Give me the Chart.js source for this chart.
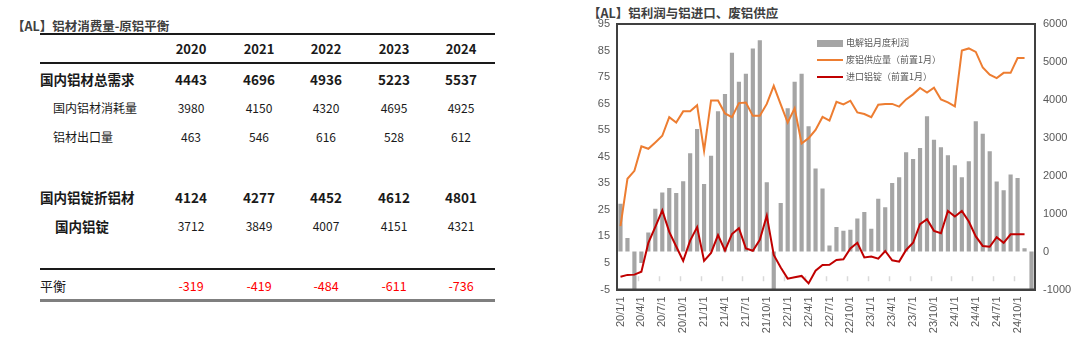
<!DOCTYPE html>
<html>
<head>
<meta charset="utf-8">
<script src="https://cdn.jsdelivr.net/npm/chart.js@4.4.1/dist/chart.umd.min.js"></script>
<style>
  body { margin: 0; width: 1080px; height: 345px; background: #fff; position: relative; overflow: hidden;
         font-family: "Noto Sans CJK SC", "Liberation Sans", sans-serif; color: #1a1a1a; }
  .abs { position: absolute; white-space: nowrap; }
  .title { font-size: 12.5px; font-weight: 700; color: #404040; }
  .cell { width: 64px; text-align: center; }
  .hline { position: absolute; left: 40px; width: 455px; background: #1a1a1a; }
  #chart-wrap { position: absolute; left: 585px; top: 0; width: 495px; height: 345px; }
  .lg { position: absolute; font-size: 9px; color: #595959; line-height: 12px; }
</style>
</head>
<body>

<div class="abs title" style="left:12px; top:16px;">【AL】铝材消费量-原铝平衡</div>
<div id="table"></div>

<div class="abs title" style="left:588px; top:3px;">【AL】铝利润与铝进口、废铝供应</div>
<div id="chart-wrap"><canvas id="chart-al"></canvas></div>

<div style="position:absolute; left:817px; top:40px; width:26px; height:7px; background:#a5a5a5;"></div>
<div class="lg" style="left:846px; top:37px;">电解铝月度利润</div>
<div style="position:absolute; left:817px; top:59px; width:26px; height:2px; background:#ed7d31;"></div>
<div class="lg" style="left:846px; top:54px;">废铝供应量（前置1月）</div>
<div style="position:absolute; left:817px; top:76px; width:26px; height:2px; background:#c00000;"></div>
<div class="lg" style="left:846px; top:71px;">进口铝锭（前置1月）</div>

<script>
// ---- table data (万吨) ----
const years = ['2020', '2021', '2022', '2023', '2024'];
const totalDemand = [4443, 4696, 4936, 5223, 5537];
const domesticUse = [3980, 4150, 4320, 4695, 4925];
const materialExport = [463, 546, 616, 528, 612];
const ingotAsMaterial = [4124, 4277, 4452, 4612, 4801];
const domesticIngot = [3712, 3849, 4007, 4151, 4321];
const balance = [-319, -419, -484, -611, -736];

// ---- chart data ----
const months = [
  '20/1/1','20/2/1','20/3/1','20/4/1','20/5/1','20/6/1','20/7/1','20/8/1','20/9/1','20/10/1','20/11/1','20/12/1',
  '21/1/1','21/2/1','21/3/1','21/4/1','21/5/1','21/6/1','21/7/1','21/8/1','21/9/1','21/10/1','21/11/1','21/12/1',
  '22/1/1','22/2/1','22/3/1','22/4/1','22/5/1','22/6/1','22/7/1','22/8/1','22/9/1','22/10/1','22/11/1','22/12/1',
  '23/1/1','23/2/1','23/3/1','23/4/1','23/5/1','23/6/1','23/7/1','23/8/1','23/9/1','23/10/1','23/11/1','23/12/1',
  '24/1/1','24/2/1','24/3/1','24/4/1','24/5/1','24/6/1','24/7/1','24/8/1','24/9/1','24/10/1','24/11/1','24/12/1'
];
// 电解铝月度利润 (right axis)
const profit = [
  1262, 356, -1150, -300, 505, 1130, 1560, 1675, 1544, 1851, 2590, 3232,
  1781, 2528, 3698, 4156, 5245, 4480, 4688, 5352, 5572, 1825, -1150, 1279,
  3780, 4480, 4688, 3303, 2190, 1662, 158, 650, 549, 575, 875, 1042,
  602, 1390, 1170, 1807, 1960, 2616, 2441, 2731, 3566, 2951, 2748, 2537,
  2273, 1957, 2379, 3435, 3109, 2643, 1845, 1614, 2030, 1939, 85, -1150
];
// 废铝供应量（前置1月） (left axis)
const scrapSupply = [
  18.9, 36.7, 39.7, 48.9, 48.0, 50.4, 52.9, 59.9, 57.9, 62.1, 62.1, 64.4,
  47.2, 66.2, 66.2, 61.3, 59.9, 65.2, 65.4, 60.4, 60.4, 64.9, 71.7, 64.7,
  57.9, 63.2, 50.0, 52.0, 55.1, 60.0, 58.6, 65.7, 64.7, 66.1, 61.7, 61.1,
  59.9, 64.6, 64.9, 64.9, 63.9, 66.6, 68.5, 70.9, 69.2, 71.0, 66.6, 65.5,
  64.0, 85.0, 85.8, 84.5, 78.6, 75.9, 74.6, 76.6, 76.6, 82.2, 82.2, null
];
// 进口铝锭（前置1月） (left axis)
const ingotImport = [
  -0.2, 0.5, 0.6, 1.7, 12.6, 18.6, 24.8, 16.7, 11.2, 5.8, 13.4, 18.5,
  5.8, 8.8, 15.5, 9.7, 15.9, 18.1, 10.5, 9.6, 13.7, 22.8, 8.0, 3.3,
  -0.9, -0.4, 0.1, -2.7, 2.1, 4.2, 4.3, 6.1, 6.4, 10.5, 12.6, 7.1,
  7.4, 6.6, 9.5, 6.0, 5.5, 9.9, 12.6, 19.6, 21.5, 17.1, 16.2, 24.6,
  22.5, 24.6, 20.6, 15.0, 11.4, 11.1, 14.7, 12.6, 15.8, 15.8, 15.8, null
];

// ---- table ----
function buildTable() {
  const box = document.getElementById('table');
  const colX = [191, 259, 326, 394, 461];
  const rows = [
    { label: '', vals: years, y: 49, size: 13, bold: true },
    { label: '国内铝材总需求', vals: totalDemand, y: 79, size: 13.5, bold: true },
    { label: '国内铝材消耗量', vals: domesticUse, y: 108, size: 12, indent: 13 },
    { label: '铝材出口量', vals: materialExport, y: 137, size: 12, indent: 13 },
    { label: '国内铝锭折铝材', vals: ingotAsMaterial, y: 197, size: 13.5, bold: true },
    { label: '国内铝锭', vals: domesticIngot, y: 226, size: 12, labelBold: true, labelSize: 13.5, indent: 15 },
    { label: '平衡', vals: balance, y: 286, size: 12.5, labelSize: 13, color: '#ff0000' }
  ];
  let html = '';
  rows.forEach(r => {
    const ls = r.labelSize || r.size;
    const lw = (r.bold || r.labelBold) ? 700 : 400;
    if (r.label) {
      html += `<div class="abs" style="left:${40 + (r.indent || 0)}px; top:${r.y - ls * 0.7}px; font-size:${ls}px; font-weight:${lw}; line-height:${ls * 1.4}px;">${r.label}</div>`;
    }
    r.vals.forEach((v, i) => {
      html += `<div class="abs cell" style="left:${colX[i] - 32}px; top:${r.y - r.size * 0.7}px; font-size:${r.size}px; line-height:${r.size * 1.4}px; font-weight:${r.bold ? 700 : 400}; color:${r.color || '#1a1a1a'};">${v}</div>`;
    });
  });
  html += '<div class="hline" style="top:33px; height:1.5px;"></div>';
  html += '<div class="hline" style="top:62px; height:1.5px;"></div>';
  html += '<div class="hline" style="top:268px; height:1.5px;"></div>';
  html += '<div class="hline" style="top:299px; height:3px; background:#7f7f7f;"></div>';
  box.innerHTML = html;
}
buildTable();

// ---- chart ----
const framePlugin = {
  id: 'frame',
  beforeDatasetsDraw(chart) {
    // small tick marks on the zero line, every 3 months
    const { ctx, scales } = chart;
    const y0 = scales.y.getPixelForValue(0);
    const half = (scales.x.getPixelForValue(1) - scales.x.getPixelForValue(0)) / 2;
    ctx.save();
    ctx.strokeStyle = '#d9d9d9';
    ctx.lineWidth = 1.5;
    ctx.beginPath();
    for (let i = 3; i < months.length; i += 3) {
      const x = Math.round(scales.x.getPixelForValue(i) - half) + 0.5;
      ctx.moveTo(x, y0);
      ctx.lineTo(x, y0 + 5);
    }
    ctx.stroke();
    ctx.restore();
  },
  afterDraw(chart) {
    const { ctx, chartArea: a } = chart;
    ctx.save();
    ctx.strokeStyle = '#404040';
    ctx.lineWidth = 2;
    ctx.strokeRect(a.left, a.top, a.right - a.left, a.bottom - a.top);
    ctx.restore();
  }
};

const tickFont = { family: '"Liberation Sans", "Noto Sans CJK SC", sans-serif', size: 11 };

new Chart(document.getElementById('chart-al'), {
  type: 'bar',
  data: {
    labels: months,
    datasets: [
      { type: 'line', label: '进口铝锭（前置1月）', data: ingotImport, yAxisID: 'y',
        borderColor: '#c00000', borderWidth: 2, pointRadius: 0, tension: 0, order: 1 },
      { type: 'line', label: '废铝供应量（前置1月）', data: scrapSupply, yAxisID: 'y',
        borderColor: '#ed7d31', borderWidth: 2, pointRadius: 0, tension: 0, order: 2 },
      { type: 'bar', label: '电解铝月度利润', data: profit, yAxisID: 'y1',
        backgroundColor: '#a5a5a5', categoryPercentage: 1, barPercentage: 0.6, order: 3 }
    ]
  },
  options: {
    responsive: true,
    maintainAspectRatio: false,
    animation: false,
    layout: { padding: { top: 24, left: 0, right: 0, bottom: 0 } },
    plugins: { legend: { display: false }, tooltip: { enabled: false } },
    scales: {
      x: {
        offset: true,
        grid: { display: false, drawTicks: false },
        border: { display: true, color: '#404040', width: 2 },
        ticks: {
          autoSkip: false, minRotation: 90, maxRotation: 90, padding: 7,
          color: '#595959', font: { ...tickFont, size: 11 },
          callback: (v, i) => (i % 3 === 0 ? months[i] : '')
        },
        afterFit: s => { s.height = 55.5; }
      },
      y: {
        position: 'left', min: -5, max: 95,
        grid: {
          drawTicks: false, lineWidth: 1.5,
          color: c => (c.tick && c.tick.value === 0 ? '#d9d9d9' : 'rgba(0,0,0,0)')
        },
        border: { display: true, color: '#404040', width: 2 },
        ticks: { stepSize: 10, padding: 7, color: '#595959', font: tickFont,
                 callback: v => String(v) },
        afterFit: s => { s.width = 32; }
      },
      y1: {
        position: 'right', min: -1000, max: 6000,
        grid: { display: false, drawTicks: false },
        border: { display: true, color: '#404040', width: 2 },
        ticks: { stepSize: 1000, padding: 8, color: '#595959', font: tickFont,
                 callback: v => String(v) },
        afterFit: s => { s.width = 45; }
      }
    }
  },
  plugins: [framePlugin]
});
</script>
</body>
</html>
